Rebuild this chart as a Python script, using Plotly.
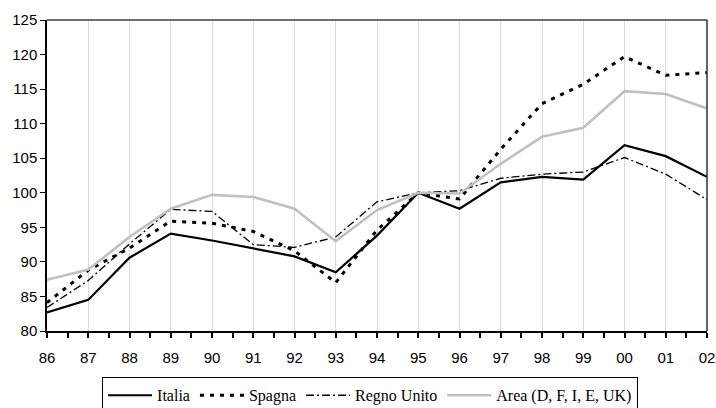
import plotly.graph_objects as go

years = ["86", "87", "88", "89", "90", "91", "92", "93", "94", "95", "96", "97", "98", "99", "00", "01", "02"]
italia = [82.7, 84.5, 90.6, 94.1, 93.1, 92.0, 90.8, 88.5, 93.8, 100.0, 97.7, 101.5, 102.3, 101.9, 106.9, 105.3, 102.3]
spagna = [84.1, 88.8, 92.0, 95.9, 95.6, 94.4, 91.6, 87.0, 94.6, 100.0, 99.1, 106.3, 112.9, 115.7, 119.7, 117.0, 117.4]
regno_unito = [83.4, 87.3, 92.6, 97.6, 97.3, 92.5, 92.1, 93.6, 98.7, 100.0, 100.3, 102.1, 102.7, 103.0, 105.1, 102.7, 99.0]
area = [87.4, 88.9, 93.6, 97.7, 99.7, 99.4, 97.7, 93.0, 97.5, 100.0, 99.9, 104.2, 108.1, 109.4, 114.7, 114.3, 112.2]
yticks = [80, 85, 90, 95, 100, 105, 110, 115, 120, 125]

xpos = list(range(len(years)))

fig = go.Figure()
fig.add_trace(go.Scatter(x=xpos, y=italia, mode="lines", name="Italia",
                         line=dict(color="black", width=2.2)))
fig.add_trace(go.Scatter(x=xpos, y=spagna, mode="lines", name="Spagna",
                         line=dict(color="black", width=3, dash="4px,6px")))
fig.add_trace(go.Scatter(x=xpos, y=regno_unito, mode="lines", name="Regno Unito",
                         line=dict(color="black", width=1.3, dash="8px,3px,2px,3px")))
fig.add_trace(go.Scatter(x=xpos, y=area, mode="lines", name="Area (D, F, I, E, UK)",
                         line=dict(color="#c0c0c0", width=2.6)))

fig.update_layout(
    width=716, height=408,
    margin=dict(l=47, r=9, t=20, b=77, autoexpand=False),
    paper_bgcolor="white", plot_bgcolor="white",
    font=dict(family="Liberation Sans, Arial, sans-serif", size=15, color="black"),
    showlegend=True,
    legend=dict(orientation="h", x=0.4895, xanchor="center", y=-0.149, yanchor="top",
                bordercolor="black", borderwidth=1, bgcolor="white",
                font=dict(family="'Times New Roman', 'Liberation Serif', 'Nimbus Roman', 'DejaVu Serif', serif",
                          size=16, color="black"),
                itemwidth=44, tracegroupgap=0),
    xaxis=dict(range=[0, len(years) - 1], tickmode="array", tickvals=xpos, ticktext=years,
               showgrid=True, gridcolor="#dadada", gridwidth=1.2,
               showline=True, linecolor="black", linewidth=2,
               ticks="outside", ticklen=5, tickcolor="black", tickwidth=1.5,
               ticklabelstandoff=7,
               minor=dict(dtick=0.5, tick0=0, ticks="outside", ticklen=5, tickcolor="black", showgrid=False),
               zeroline=False, fixedrange=True, automargin=False),
    yaxis=dict(range=[80, 125], tickmode="array", tickvals=yticks,
               showgrid=False, showline=True, linecolor="black", linewidth=1.5,
               ticks="outside", ticklen=5, tickcolor="black",
               zeroline=False, fixedrange=True, automargin=False),
    shapes=[
        dict(type="line", xref="paper", yref="paper", x0=0, x1=1, y0=1, y1=1,
             line=dict(color="#707070", width=2)),
        dict(type="line", xref="paper", yref="paper", x0=1, x1=1, y0=0, y1=1,
             line=dict(color="#303030", width=1.5)),
    ],
)

fig.write_html("out.html", config={"displayModeBar": False},
               post_script="document.body.style.margin='0';document.body.style.overflow='hidden';")
